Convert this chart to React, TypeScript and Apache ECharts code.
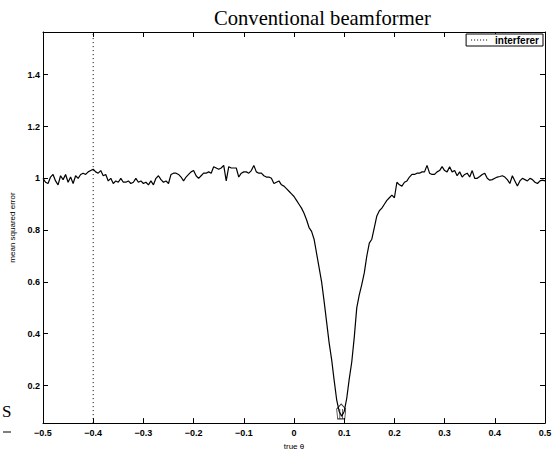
import React, { useEffect, useRef } from "react";
import * as echarts from "echarts";

// true theta grid: -0.5 .. 0.5 in steps of 0.005 (201 samples)
const thetaStart = -0.5;
const thetaStep = 0.005;

// mean squared error, one value per theta sample
const mseValues = [
  // -0.5 .. -0.4
  1.0, 0.985, 0.98, 1.005, 1.015, 0.99, 0.975, 1.01, 0.995, 1.015, 0.985,
  1.005, 0.98, 1.01, 1.0, 1.015, 1.02, 1.015, 1.025, 1.03, 1.035,
  // -0.395 .. -0.3
  1.025, 1.02, 1.03, 1.01, 1.015, 0.99, 1.0, 0.98, 0.99, 0.985,
  1.0, 0.985, 0.985, 0.99, 0.98, 0.985, 1.0, 0.985, 0.99, 0.98,
  // -0.295 .. -0.2
  0.985, 0.975, 0.99, 0.975, 1.0, 1.01, 0.995, 0.985, 0.99, 0.98,
  1.015, 1.02, 1.02, 1.015, 1.005, 0.99, 1.005, 1.015, 1.025, 1.03,
  // -0.195 .. -0.1
  1.01, 1.0, 1.01, 1.02, 1.02, 1.025, 1.02, 1.045, 1.04, 1.035,
  1.04, 1.05, 0.99, 1.045, 1.04, 1.04, 1.04, 1.005, 1.02, 1.025,
  // -0.095 .. 0
  1.025, 1.02, 1.03, 1.05, 1.025, 1.02, 1.02, 1.01, 1.005, 1.005,
  1.0, 0.98, 0.985, 0.99, 0.975, 0.97, 0.96, 0.95, 0.94, 0.93,
  // 0.005 .. 0.1
  0.915, 0.9, 0.885, 0.865, 0.84, 0.81, 0.795, 0.765, 0.71, 0.655,
  0.6, 0.525, 0.445, 0.365, 0.3, 0.22, 0.145, 0.1, 0.082, 0.1,
  // 0.105 .. 0.2
  0.15, 0.225, 0.29, 0.385, 0.5, 0.55, 0.59, 0.635, 0.7, 0.75,
  0.765, 0.81, 0.855, 0.875, 0.885, 0.9, 0.915, 0.925, 0.935, 0.925,
  // 0.205 .. 0.3
  0.985, 0.975, 0.97, 0.985, 0.99, 1.005, 1.015, 1.015, 1.02, 1.02,
  1.025, 1.025, 1.05, 1.02, 1.015, 1.015, 1.025, 1.03, 1.045, 1.03,
  // 0.305 .. 0.4
  1.025, 1.045, 1.025, 1.03, 1.01, 1.025, 1.005, 1.015, 1.02, 1.005,
  1.03, 1.0, 1.0, 1.007, 1.015, 1.02, 1.0, 0.993, 0.995, 1.0,
  // 0.405 .. 0.5
  1.005, 1.007, 1.01, 1.005, 0.995, 0.98, 1.01, 0.99, 0.97, 0.99,
  1.0, 0.995, 0.99, 1.0, 0.995, 0.985, 0.98, 0.99, 0.993, 0.99,
];

const interfererTheta = -0.4;
const sourceMarker = [0.094, 0.1];

const xMin = -0.5;
const xMax = 0.5;
const xInterval = 0.1;
const yMin = 0.055;
const yMax = 1.565;
const yTicks = [0.2, 0.4, 0.6, 0.8, 1.0, 1.2, 1.4];

const titleText = "Conventional beamformer";
const xName = "true θ";
const yName = "mean squared error";
const legendName = "interferer";

const SANS = "'Liberation Sans', Arial, Helvetica, sans-serif";
const SERIF = "'Liberation Serif', 'Times New Roman', serif";

const DOTTED_ICON =
  "path://M0 0h1v1h-1z M3 0h1v1h-1z M6 0h1v1h-1z M9 0h1v1h-1z M12 0h1v1h-1z M15 0h1v1h-1z";

const fmt = (v: number) => {
  const s = String(Number(v.toFixed(2)));
  return s.replace("-", "\u2212");
};

export default function App() {
  const ref = useRef<HTMLDivElement>(null);

  useEffect(() => {
    if (!ref.current) return;
    const chart = echarts.init(ref.current, undefined, { renderer: "svg" });

    const mseData = mseValues.map((v, i) => [
      Number((thetaStart + i * thetaStep).toFixed(3)),
      v,
    ]);

    const tickStyle = { show: true, inside: true, length: 5, lineStyle: { color: "#000", width: 1 } };
    const lineStyle = { show: true, onZero: false, lineStyle: { color: "#000", width: 1 } };

    chart.setOption({
      animation: false,
      backgroundColor: "#fff",
      title: {
        text: titleText,
        left: 214,
        top: 7,
        padding: 0,
        textStyle: { fontFamily: SERIF, fontSize: 20.6, fontWeight: "normal", color: "#000" },
      },
      legend: {
        data: [{ name: legendName, icon: DOTTED_ICON, itemStyle: { color: "#000", borderWidth: 0 } }],
        right: 12,
        top: 34,
        padding: [1, 4, 1, 5],
        itemWidth: 16,
        itemHeight: 1,
        itemGap: 4,
        borderColor: "#000",
        borderWidth: 1,
        backgroundColor: "#fff",
        textStyle: { fontFamily: SANS, fontSize: 10, fontWeight: "bold", color: "#000", padding: [0, 0, 0, 3] },
      },
      grid: { left: 43, right: 10, top: 32, bottom: 28, containLabel: false },
      xAxis: [
        {
          type: "value",
          min: xMin,
          max: xMax,
          interval: xInterval,
          position: "bottom",
          axisLine: lineStyle,
          axisTick: tickStyle,
          splitLine: { show: false },
          axisLabel: {
            margin: 5,
            fontFamily: SANS,
            fontSize: 9,
            fontWeight: "bold",
            color: "#000",
            formatter: (v: number) => fmt(v),
          },
          name: xName,
          nameLocation: "middle",
          nameGap: 14,
          nameTextStyle: { fontFamily: SANS, fontSize: 8, color: "#000", verticalAlign: "top" },
        },
        {
          type: "value",
          min: xMin,
          max: xMax,
          interval: xInterval,
          position: "top",
          axisLine: lineStyle,
          axisTick: tickStyle,
          splitLine: { show: false },
          axisLabel: { show: false },
        },
      ],
      yAxis: [
        {
          type: "value",
          min: yMin,
          max: yMax,
          position: "left",
          axisLine: lineStyle,
          axisTick: { ...tickStyle, customValues: yTicks },
          splitLine: { show: false },
          axisLabel: {
            customValues: yTicks,
            margin: 3,
            fontFamily: SANS,
            fontSize: 9,
            fontWeight: "bold",
            color: "#000",
            formatter: (v: number) => fmt(v),
          },
          name: yName,
          nameLocation: "middle",
          nameGap: 23,
          nameRotate: 90,
          nameTextStyle: { fontFamily: SANS, fontSize: 8, color: "#000" },
        },
        {
          type: "value",
          min: yMin,
          max: yMax,
          position: "right",
          axisLine: lineStyle,
          axisTick: { ...tickStyle, customValues: yTicks },
          splitLine: { show: false },
          axisLabel: { show: false },
        },
      ],
      series: [
        {
          name: "mse",
          type: "line",
          data: mseData,
          xAxisIndex: 0,
          yAxisIndex: 0,
          symbol: "none",
          lineStyle: { color: "#000", width: 1.2 },
          z: 3,
        },
        {
          name: legendName,
          type: "line",
          data: [
            [interfererTheta, yMin],
            [interfererTheta, yMax],
          ],
          xAxisIndex: 0,
          yAxisIndex: 0,
          symbol: "none",
          itemStyle: { color: "#000" },
          lineStyle: { color: "#000", width: 1, type: [1, 3] },
          z: 2,
        },
        {
          name: "source",
          type: "scatter",
          data: [sourceMarker],
          xAxisIndex: 0,
          yAxisIndex: 0,
          symbol: "path://M5 0 L10 5 L9 15 L1 15 L0 5 Z M3.5 5 L3.5 15 M6.5 5 L6.5 15",
          symbolSize: [9, 15],
          itemStyle: { color: "rgba(0,0,0,0)", borderColor: "#000", borderWidth: 1 },
          z: 4,
        },
      ],
      graphic: [
        {
          type: "text",
          left: 2,
          top: 403,
          style: { text: "S", fontFamily: SERIF, fontSize: 17, fill: "#000" },
        },
        {
          type: "line",
          shape: { x1: 3, y1: 432, x2: 11, y2: 432 },
          style: { stroke: "#000", lineWidth: 1 },
        },
      ],
    });

    return () => chart.dispose();
  }, []);

  return (
    <div
      ref={ref}
      style={{ position: "fixed", left: 0, top: 0, width: 555, height: 455, background: "#fff" }}
    />
  );
}
